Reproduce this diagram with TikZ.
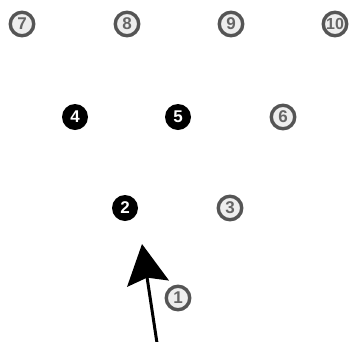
\documentclass[tikz,border=0pt]{standalone}
\usepackage{fontspec}
\setmainfont{Liberation Sans}
\usetikzlibrary{arrows.meta}
\definecolor{ringgray}{HTML}{555555}
\definecolor{fillgray}{HTML}{EEEEEE}
\definecolor{numgray}{HTML}{666666}
\tikzset{
  ring/.style={circle, draw=ringgray, line width=3.4pt, fill=fillgray, text=numgray,
    minimum size=23.5pt, inner sep=0pt, font=\fontsize{17}{17}\selectfont\bfseries},
  solid dot/.style={circle, fill=black, text=white,
    minimum size=26pt, inner sep=0pt, font=\fontsize{17}{17}\selectfont\bfseries},
  bigarrow/.style={line width=3pt, -{Stealth[length=40pt, width=42pt, inset=6pt]}}
}
\begin{document}
\begin{tikzpicture}[x=1pt, y=-1pt]
\useasboundingbox (0,0) rectangle (351,341);
\node[ring] (n7) at (22,24) {7};
\node[ring] (n8) at (127,24) {8};
\node[ring] (n9) at (231,24) {9};
\node[ring, font=\fontsize{16}{16}\selectfont\bfseries] (n10) at (335,24) {10};
\node[solid dot] (n4) at (75,117) {4};
\node[solid dot] (n5) at (178,117) {5};
\node[ring] (n6) at (283,117) {6};
\node[solid dot] (n2) at (125,208) {2};
\node[ring] (n3) at (230,208) {3};
\node[ring] (n1) at (178,298) {1};
\coordinate (start) at (157,343);
\coordinate (tip) at (142,244);
\draw[bigarrow] (start) -- (tip);
\end{tikzpicture}
\end{document}
